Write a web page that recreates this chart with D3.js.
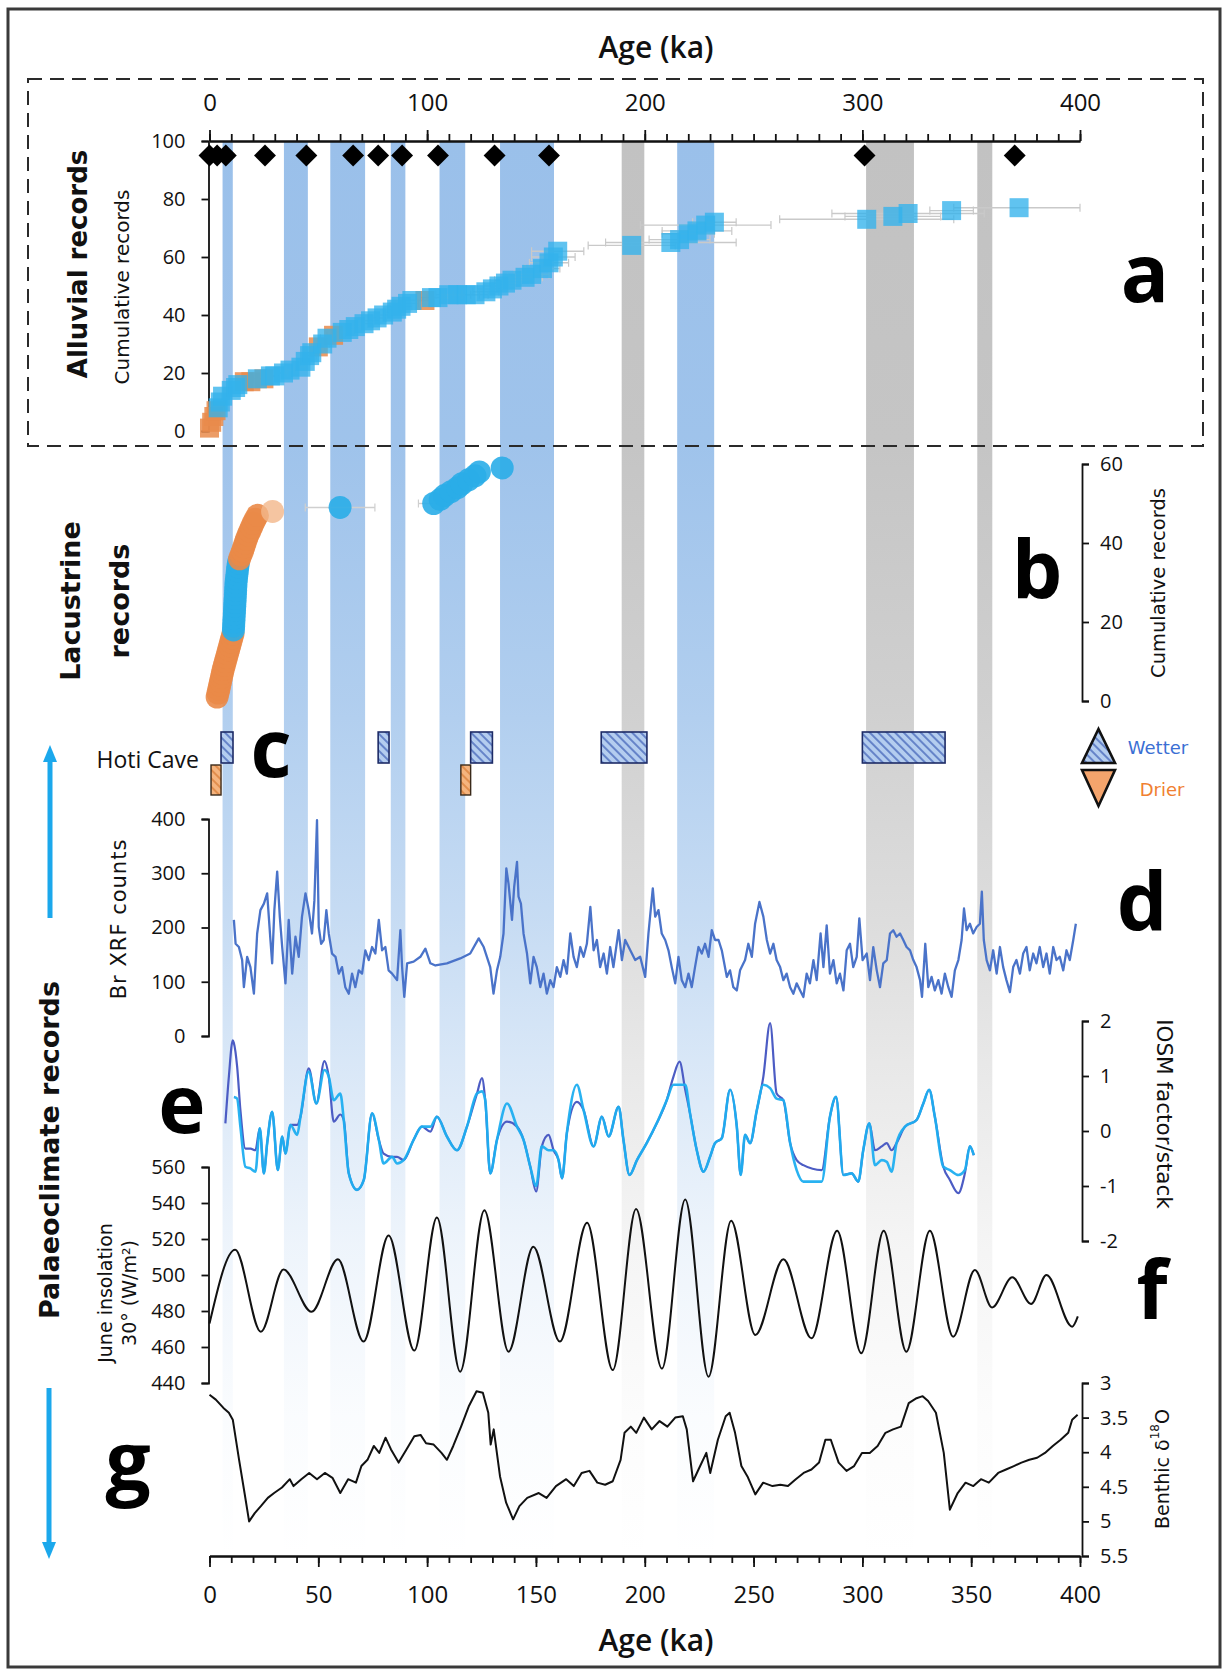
<!DOCTYPE html>
<html><head><meta charset="utf-8">
<script src="https://cdn.jsdelivr.net/npm/d3@7"></script>
<style>body{margin:0;background:#fff} svg{display:block}</style>
</head><body>
<svg id="c" width="1225" height="1673"></svg>
<script>
// ---------------- DATA ----------------
const topTicks = [0,100,200,300,400];
const bottomTicks = [0,50,100,150,200,250,300,350,400];
const yATicks = [0,20,40,60,80,100];
const yBTicks = [0,20,40,60];
const yDTicks = [0,100,200,300,400];
const yETicks = [-2,-1,0,1,2];
const yFTicks = [440,460,480,500,520,540,560];
const yGTicks = [3,3.5,4,4.5,5,5.5];

// highlighted periods (ka)
const bandStart = [6,34.2,55.5,83.3,105.7,133.5,189.4,214.9,301.7,352.8];
const bandEnd   = [10.7,45.2,71.5,90,117.5,158.3,199.8,231.9,323.7,359.7];
const bandType  = ['blue','blue','blue','blue','blue','blue','grey','blue','grey','grey'];

// (a) alluvial records
const diamondAge = [0,3.5,7.5,25.5,44.5,66,77.5,88.5,105,131,156,301,370];
const diamondVal = 95;
const alluvialAge = [0,1,2,3,4,5,6,10,12,13,16,19,22,25,28,30,34,37,42,44,46,47,50,52,54,57,61,64,67,71,74,77,80,84,86,88,91,93,99,102,105,110,114,118,122,127,130,133,136,139,145,148,153,156,158,160,194,212,216,220,224,228,232,302,314,321,341,372];
const alluvialCum = [1,3,5,7,8,10,12,14,15,16,17,17,18,18,19,19,20,21,22,24,26,27,29,30,32,33,34,35,36,37,38,39,40,41,42,43,44,45,45,46,46,47,47,47,47,48,49,50,51,52,53,54,56,58,60,62,64,65,66,68,69,71,72,73,74,75,76,77];
const alluvialErr = [0.5,0.5,0.5,0.5,1,1,1,1,1,1,1,1,2,2,2,2,2,2,2,2,3,3,3,3,3,3,3,3,4,4,4,4,4,4,4,5,5,5,4,5,5,6,6,6,6,6,7,7,7,8,8,8,8,9,10,12,20,30,14,12,16,30,10,40,22,35,10,30];
const alluvialType = ("oooo"+"bbbbbb"+"oo"+"b"+"o"+"bbbbbbbb"+"o"+"bb"+"o"+"bbbbbbbbbbbb"+"o"+"bbbbbbbbbbbbbbbbbbbbbbbbbbbbb").split("");

// (b) lacustrine records
const lacAge = [3.5,3.9,4.3,4.7,5.1,5.5,5.9,6.3,6.8,7.3,7.8,8.3,8.8,9.3,9.8,10.3,10.8,
  11.0,11.1,11.2,11.3,11.4,11.5,11.6,11.7,11.8,11.9,12.0,12.1,12.2,12.4,12.6,12.8,13.0,13.3,
  13.8,14.5,15.2,15.8,16.4,17.0,17.7,18.5,19.3,20.1,21.0,22.0,
  29,60,103,106,108,111,114,116,119,122,124,134.5];
const lacCum = [1,2,3,4,5,6,7,8,9,10,11,12,13,14,15,16,17,18,19,20,21,22,23,24,25,26,27,28,29,30,31,32,33,34,35,36,37,38,39,40,41,42,43,44,45,46,47,48,49,50,51,52,53,54,55,56,57,58,59];
const lacType = ("ooooooooooooooooo"+"bbbbbbbbbbbbbbbbbb"+"oooooooooooo"+"l"+"b"+"bbbbbbbbb"+"b").split("");
const lacErr = [0,0,0,0,0,0,0,0,0,0,0,0,0,0,0,0,0,0,0,0,0,0,0,0,0,0,0,0,0,0,0,0,0,0,0,0,0,0,0,0,0,0,0,0,0,0,0,0,16,7,0,0,0,0,0,0,3,0,0];

// (c) Hoti Cave
const hotiWetStart = [5.3,77.5,120,180,300];
const hotiWetEnd   = [10.8,82.5,130,201,338];
const hotiDryStart = [0.7,115.5];
const hotiDryEnd   = [5.3,120];

// (d) Br XRF counts
const brAge = [11.2,12.0,13.5,15.0,15.8,17.3,18.8,20.4,21.9,23.4,25.0,26.5,28.0,28.8,29.8,31.1,32.3,33.4,34.9,36.4,38.0,39.5,41.0,42.5,44.1,45.6,47.1,48.2,49.4,50.2,51.3,52.5,53.7,54.8,56.3,57.9,59.4,60.9,62.4,64.0,65.5,67.0,68.6,70.1,71.6,73.2,74.7,76.2,77.8,79.3,80.8,82.3,83.9,86.2,87.7,88.5,89.5,90.8,93.8,96.9,99.2,101.5,103.8,109.1,115.2,119.8,123.7,126.0,129.0,130.5,132.1,133.6,135.1,136.4,137.4,139.0,140.0,141.3,142.0,143.1,144.3,145.9,147.4,148.9,150.4,152.0,153.5,155.0,156.6,158.1,159.6,161.2,162.7,164.2,165.8,167.3,168.8,170.4,171.9,173.4,175.0,176.5,178.0,179.5,181.1,182.6,184.1,185.6,188.0,189.5,191.0,
  195.6,197.9,200.2,201.7,203.7,204.8,206.3,207.8,209.4,210.9,212.4,214.0,215.5,217.0,218.6,220.1,221.6,223.1,224.7,226.2,227.7,229.3,230.8,232.3,233.9,235.4,237.7,239.2,240.7,242.3,243.8,246.1,247.6,249.2,250.7,252.7,254.5,256.1,257.6,259.1,260.6,262.2,263.7,265.2,266.8,268.3,269.8,271.4,272.9,274.4,275.9,277.5,279.0,280.8,282.1,283.6,285.1,286.7,288.2,289.7,291.3,292.8,294.3,295.8,297.4,298.6,300.1,302.0,303.5,305.0,306.6,308.1,309.6,311.2,312.7,314.2,315.7,317.3,318.8,320.3,321.9,323.4,324.9,326.5,327.4,328.9,330.3,331.8,333.3,334.9,336.4,337.9,339.5,341.0,342.5,344.1,345.6,346.7,347.9,349.4,350.9,352.5,354.0,354.9,355.8,357.1,358.6,360.1,361.7,363.2,364.7,366.2,367.8,369.3,370.8,372.4,373.9,375.4,376.9,378.5,380.0,381.5,383.1,384.6,386.1,387.7,389.2,390.7,392.3,393.8,395.3,396.9,398.1];
const brVal = [214,170,164,140,90,146,127,78,189,232,244,263,177,134,232,303,220,164,97,214,115,183,146,220,263,232,189,250,398,201,170,177,232,189,152,146,115,127,90,78,115,90,121,115,158,140,164,152,214,158,164,121,115,103,195,127,72,134,137,146,161,134,130,134,143,152,180,164,127,78,121,146,189,309,281,214,275,321,257,244,189,152,97,146,127,90,115,78,103,90,127,109,140,115,189,146,127,164,146,170,238,158,177,127,152,115,164,127,195,140,177,
  140,146,109,189,272,220,232,189,177,158,127,97,146,103,90,115,90,127,164,152,170,146,195,177,177,158,109,121,90,84,121,140,170,146,207,247,220,177,152,170,140,127,103,115,90,78,97,84,72,115,97,140,103,189,127,204,115,140,97,115,84,158,170,127,146,217,140,152,103,164,121,90,134,140,189,195,183,189,177,164,158,140,127,103,72,170,90,109,84,103,78,115,90,72,121,140,177,235,195,207,189,201,207,266,177,140,121,158,115,164,127,103,81,127,140,115,152,164,121,152,134,164,127,152,115,164,140,146,121,158,140,177,207];

// (e) IOSM factor / stack
const eAge = [7.3,8.9,10.7,11.2,12.7,14.2,16.5,18.8,21.1,23.1,25.0,26.5,28.8,31.4,33.4,34.9,37.2,40.3,41.8,45.6,49.1,52.8,54.8,57.1,60.1,61.7,64.0,67.8,70.9,74.7,77.8,80.0,83.9,86.2,89.2,93.8,97.6,101.5,104.5,109.1,113.7,118.3,122.9,125.2,126.7,129.0,132.1,136.7,141.3,144.3,147.4,150.1,152.7,155.8,158.1,160.4,162.0,164.2,168.8,171.9,176.5,180.3,183.4,188.0,190.2,193.0,196.4,200.9,205.5,210.1,213.2,216.0,218.6,220.8,223.9,227.0,230.0,232.3,235.4,239.2,242.3,244.1,246.1,248.4,251.5,254.5,257.6,260.6,263.7,266.8,269.8,272.9,281.3,285.1,287.9,291.3,295.1,298.1,300.4,303.2,305.8,308.9,311.2,313.4,315.7,319.6,324.9,328.0,330.7,333.3,337.2,340.2,344.1,347.1,349.4,351.2];
const eFactor = [0.14,0.99,1.65,1.6,1.17,0.38,-0.32,-0.32,-0.35,0.05,-0.77,-0.22,0.35,-0.71,-0.10,-0.41,0.11,0.11,0.26,1.14,0.50,1.27,0.99,0.17,0.30,0.20,-0.77,-1.07,-0.89,0.32,-0.16,-0.41,-0.47,-0.47,-0.53,-0.16,0.08,-0.01,0.26,-0.10,-0.35,0.08,0.68,0.96,0.56,-0.77,-0.16,0.17,0.08,-0.16,-0.65,-1.10,-0.28,-0.07,-0.35,-0.53,-0.86,-0.04,0.53,0.38,-0.28,0.26,-0.10,0.44,-0.16,-0.80,-0.53,-0.22,0.14,0.56,0.99,1.26,0.75,0.32,-0.35,-0.74,-0.47,-0.22,-0.13,0.75,0.08,-0.80,-0.07,-0.22,0.38,0.99,1.96,0.68,0.56,-0.22,-0.53,-0.62,-0.71,0.26,0.62,-0.80,-0.77,-0.92,-0.35,0.14,-0.35,-0.28,-0.22,-0.35,-0.22,0.08,0.20,0.50,0.75,0.26,-0.65,-0.89,-1.13,-0.77,-0.28,-0.44];
const eStack = [null,null,null,0.62,0.59,0.08,-0.65,-0.68,-0.74,0.05,-0.77,-0.22,0.35,-0.71,-0.10,-0.41,0.11,-0.07,0.26,1.08,0.50,1.11,0.99,0.56,0.68,0.20,-0.77,-1.07,-0.89,0.32,-0.16,-0.59,-0.47,-0.59,-0.53,-0.16,0.08,0.08,0.26,-0.10,-0.35,0.08,0.68,0.72,0.56,-0.77,-0.16,0.50,0.08,-0.16,-0.65,-1.0,-0.28,-0.35,-0.35,-0.53,-0.86,-0.04,0.84,0.38,-0.28,0.26,-0.10,0.44,-0.16,-0.80,-0.53,-0.22,0.14,0.56,0.84,0.84,0.84,0.32,-0.35,-0.74,-0.47,-0.22,-0.13,0.75,0.08,-0.80,-0.07,-0.22,0.38,0.84,0.78,0.59,0.56,-0.22,-0.71,-0.92,-0.92,0.26,0.62,-0.80,-0.77,-0.92,-0.35,0.14,-0.62,-0.53,-0.56,-0.74,-0.22,0.08,0.20,0.50,0.75,0.26,-0.65,-0.71,-0.80,-0.71,-0.28,-0.44];

// (f) June insolation 30N
const insAge = [0,11.8,23.6,34,46.9,59,70.8,82.3,94.1,104.5,115.2,126.3,137.4,148.8,161,173.5,185.3,196,207.9,218.6,229.3,239.7,250.8,263.7,276.6,288.4,299.5,309.8,320.2,331,341.7,351.7,359.6,368.9,377.5,384.6,396.4,399];
const insVal = [473,514,468.5,503,479.6,508.7,463,522,458,532,446.3,536,457.4,515.7,463,529,447.2,536.7,448,542,443.5,530.2,466.7,508.7,464.8,524.6,456.5,524.6,457.4,524.6,465.7,502.8,482,498.7,483.9,500,471.3,477];

// (g) benthic d18O
const gAge = [0.0,2.9,6.4,8.9,10.7,13.6,16.1,18.2,20.8,23.6,26.8,29.7,33.3,36.9,38.6,42.2,45.8,49.4,53.0,56.5,60.1,63.7,67.3,69.8,72.6,75.5,78.0,80.9,83.4,86.9,90.5,94.1,97.0,99.5,103.0,106.6,109.1,112.0,115.6,119.1,122.7,125.6,128.1,129.2,130.6,133.5,136.3,139.5,142.4,146.0,151.3,154.9,159.2,163.9,167.4,171.0,174.6,178.2,181.8,185.3,188.9,190.7,193.6,196.1,199.6,203.2,206.8,210.4,214.0,217.5,219.3,222.2,224.7,228.3,230.1,233.6,237.2,239.0,241.5,244.4,247.2,250.8,254.4,258.7,262.3,265.8,269.4,273.0,276.6,280.1,283.0,285.5,289.1,292.7,296.2,299.8,303.4,307.0,310.6,314.1,317.7,321.3,324.9,327.7,330.2,333.8,337.4,340.2,343.8,347.4,351.0,354.5,358.1,362.4,366.0,369.6,373.1,376.7,380.3,383.9,387.5,391.1,394.6,396.4,398.9];
const gVal = [3.17,3.24,3.36,3.43,3.53,4.11,4.59,5.00,4.88,4.78,4.66,4.59,4.51,4.39,4.49,4.39,4.30,4.39,4.30,4.37,4.59,4.39,4.44,4.20,4.11,3.91,4.01,3.79,3.96,4.15,3.96,3.77,3.75,3.87,3.89,4.01,4.11,3.91,3.63,3.34,3.12,3.14,3.43,3.89,3.67,4.35,4.73,4.97,4.78,4.66,4.59,4.66,4.49,4.39,4.49,4.30,4.27,4.44,4.47,4.42,4.11,3.72,3.63,3.72,3.50,3.67,3.55,3.63,3.50,3.48,3.67,4.42,4.25,4.01,4.30,3.82,3.48,3.43,3.72,4.20,4.35,4.61,4.44,4.49,4.47,4.49,4.39,4.30,4.25,4.15,3.82,3.82,4.15,4.27,4.20,4.01,4.01,3.91,3.72,3.67,3.63,3.29,3.22,3.19,3.26,3.43,4.01,4.83,4.59,4.44,4.49,4.39,4.44,4.30,4.25,4.20,4.15,4.11,4.08,4.01,3.91,3.82,3.72,3.53,3.46];

// ---------------- DRAWING ----------------
const NUM = "'Open Sans', 'Liberation Sans', sans-serif";
const LAB = "'DejaVu Sans', Verdana, sans-serif";
const svg = d3.select("#c");
svg.append("rect").attr("width",1225).attr("height",1673).attr("fill","#fff");
const defs = svg.append("defs");

const x = d3.scaleLinear().domain([0,400]).range([209.5,1080]);
const yA = d3.scaleLinear().domain([0,100]).range([431,141]);
const yB = d3.scaleLinear().domain([0,60]).range([701,464]);
const yD = d3.scaleLinear().domain([0,400]).range([1036,819]);
const yE = d3.scaleLinear().domain([-2,2]).range([1241,1021]);
const yF = d3.scaleLinear().domain([440,560]).range([1383,1167]);
const yG = d3.scaleLinear().domain([3,5.5]).range([1383,1556]);

function grad(id,color){
  const g = defs.append("linearGradient").attr("id",id).attr("gradientUnits","userSpaceOnUse")
    .attr("x1",0).attr("x2",0).attr("y1",yA(100)).attr("y2",yG(5.5));
  [[0,1],[0.216,0.95],[0.395,0.78],[0.55,0.56],[0.65,0.38],[0.78,0.17],[0.9,0.05],[1,0]]
    .forEach(([o,a])=>g.append("stop").attr("offset",o).attr("stop-color",color).attr("stop-opacity",a));
}
grad("gBlue","#9ac0ea");
grad("gGrey","#c2c2c2");

function hatch(id,bg,line){
  const p = defs.append("pattern").attr("id",id).attr("patternUnits","userSpaceOnUse")
    .attr("width",6).attr("height",6).attr("patternTransform","rotate(-45)");
  p.append("rect").attr("width",6).attr("height",6).attr("fill",bg);
  p.append("line").attr("x1",1).attr("y1",0).attr("x2",1).attr("y2",6).attr("stroke",line).attr("stroke-width",1.3);
}
hatch("hB","#b4cdef","#3b5cb4");
hatch("hO","#f5b47e","#d77a32");

// outer frame
svg.append("rect").attr("x",8).attr("y",9).attr("width",1212).attr("height",1658)
  .attr("fill","none").attr("stroke","#3a3a3a").attr("stroke-width",3);

// bands
svg.append("g").selectAll("rect").data(bandStart).join("rect")
  .attr("x",(d)=>x(d)).attr("width",(d,i)=>x(bandEnd[i])-x(d))
  .attr("y",yA(100)).attr("height",yG(5.5)-yA(100))
  .attr("fill",(d,i)=>bandType[i]==='blue'?"url(#gBlue)":"url(#gGrey)");

// dashed box for panel a
svg.append("rect").attr("x",28).attr("y",79).attr("width",1175).attr("height",367)
  .attr("fill","none").attr("stroke","#2a2a2a").attr("stroke-width",2).attr("stroke-dasharray","14,8");

function styleAxis(g,size){
  g.attr("font-family",NUM).attr("font-size",size);
  g.select("path.domain").attr("fill","none");
  g.selectAll("path,line").attr("stroke","#111").attr("stroke-width",1.8);
  g.selectAll("text").attr("fill","#111");
}

// top axis (panel a)
const gTop1 = svg.append("g").attr("transform",`translate(0,${yA(100)})`)
  .call(d3.axisTop(x).tickValues(x.ticks(40)).tickSize(7).tickSizeOuter(0).tickFormat(""));
styleAxis(gTop1,24);
const gTop2 = svg.append("g").attr("transform",`translate(0,${yA(100)})`)
  .call(d3.axisTop(x).tickValues(topTicks).tickSize(11).tickSizeOuter(0).tickPadding(19));
styleAxis(gTop2,24);

// bottom axis
const gBot1 = svg.append("g").attr("transform",`translate(0,${yG(5.5)})`)
  .call(d3.axisBottom(x).tickValues(x.ticks(40)).tickSize(7).tickSizeOuter(0).tickFormat(""));
styleAxis(gBot1,24);
const gBot2 = svg.append("g").attr("transform",`translate(0,${yG(5.5)})`)
  .call(d3.axisBottom(x).tickValues(bottomTicks).tickSize(11).tickSizeOuter(0).tickPadding(19));
styleAxis(gBot2,24);

const leftX = x(0)-1, rightX = x(400)+2;
function leftAxis(scale,ticks){
  const g = svg.append("g").attr("transform",`translate(${leftX},0)`)
    .call(d3.axisLeft(scale).tickValues(ticks).tickSize(7).tickPadding(16).tickFormat(d=>String(d)));
  styleAxis(g,20);
}
function rightAxis(scale,ticks){
  const g = svg.append("g").attr("transform",`translate(${rightX},0)`)
    .call(d3.axisRight(scale).tickValues(ticks).tickSize(7).tickPadding(11).tickFormat(d=>String(d)));
  styleAxis(g,20);
}
leftAxis(yA,yATicks);
rightAxis(yB,yBTicks);
leftAxis(yD,yDTicks);
rightAxis(yE,yETicks);
leftAxis(yF,yFTicks);
rightAxis(yG,yGTicks);

// ---- panel a data ----
const gA = svg.append("g");
alluvialAge.forEach((a,i)=>{
  const e = alluvialErr[i]; if(e<2) return;
  const yy = yA(alluvialCum[i]);
  gA.append("line").attr("x1",x(a-e)).attr("x2",x(Math.min(400,a+e))).attr("y1",yy).attr("y2",yy)
    .attr("stroke","#c9c9c9").attr("stroke-width",1.4);
  [a-e,Math.min(400,a+e)].forEach(v=>gA.append("line").attr("x1",x(v)).attr("x2",x(v))
    .attr("y1",yy-4).attr("y2",yy+4).attr("stroke","#c9c9c9").attr("stroke-width",1.2));
});
const sq = 19;
const idxA = alluvialAge.map((d,i)=>i);
gA.selectAll("rect.o").data(idxA.filter(i=>alluvialType[i]==='o')).join("rect")
  .attr("x",i=>x(alluvialAge[i])-sq/2).attr("y",i=>yA(alluvialCum[i])-sq/2)
  .attr("width",sq).attr("height",sq).attr("fill","#e98b4b").attr("opacity",0.85);
gA.selectAll("rect.b").data(idxA.filter(i=>alluvialType[i]==='b')).join("rect")
  .attr("x",i=>x(alluvialAge[i])-sq/2).attr("y",i=>yA(alluvialCum[i])-sq/2)
  .attr("width",sq).attr("height",sq).attr("fill","#33b2ec").attr("opacity",0.78);
const diamond = d3.symbol().type(d3.symbolSquare).size(240);
gA.selectAll("path.dm").data(diamondAge).join("path")
  .attr("d",diamond).attr("transform",d=>`translate(${x(d)},${yA(diamondVal)}) rotate(45)`)
  .attr("fill","#000");

// ---- panel b data ----
const gB = svg.append("g");
lacAge.forEach((a,i)=>{
  const e = lacErr[i]; if(!e) return;
  const yy = yB(lacCum[i]);
  gB.append("line").attr("x1",x(a-e)).attr("x2",x(a+ (i===48?e:0))).attr("y1",yy).attr("y2",yy)
    .attr("stroke","#cfcfcf").attr("stroke-width",1.4);
  gB.append("line").attr("x1",x(a-e)).attr("x2",x(a-e)).attr("y1",yy-4).attr("y2",yy+4)
    .attr("stroke","#cfcfcf").attr("stroke-width",1.2);
  if(i===48) gB.append("line").attr("x1",x(a+e)).attr("x2",x(a+e)).attr("y1",yy-4).attr("y2",yy+4)
    .attr("stroke","#cfcfcf").attr("stroke-width",1.2);
});
const lacColor = {o:"#ea8a48", b:"#2aade8", l:"#f3b68a"};
gB.selectAll("circle").data(lacAge.map((d,i)=>i)).join("circle")
  .attr("cx",i=>x(lacAge[i])).attr("cy",i=>yB(lacCum[i])).attr("r",11.5)
  .attr("fill",i=>lacColor[lacType[i]]).attr("opacity",i=>lacType[i]==='l'?0.8:0.9);

// ---- panel c ----
const cWetY0 = 732, cWetY1 = 763, cDryY0 = 765, cDryY1 = 795;
svg.append("g").selectAll("rect").data(hotiWetStart).join("rect")
  .attr("x",d=>x(d)).attr("width",(d,i)=>x(hotiWetEnd[i])-x(d))
  .attr("y",cWetY0).attr("height",cWetY1-cWetY0)
  .attr("fill","url(#hB)").attr("stroke","#1d2b66").attr("stroke-width",1.6);
svg.append("g").selectAll("rect").data(hotiDryStart).join("rect")
  .attr("x",d=>x(d)).attr("width",(d,i)=>x(hotiDryEnd[i])-x(d))
  .attr("y",cDryY0).attr("height",cDryY1-cDryY0)
  .attr("fill","url(#hO)").attr("stroke","#3a2a1a").attr("stroke-width",1.4);
svg.append("text").attr("x",199).attr("y",768).attr("text-anchor","end")
  .attr("font-family",NUM).attr("font-size",23).attr("fill","#111").text("Hoti Cave");
// legend
svg.append("path").attr("d","M1098.5,729 L1115,763 L1082,763 Z").attr("fill","url(#hB)")
  .attr("stroke","#111").attr("stroke-width",2.6).attr("stroke-linejoin","miter");
svg.append("path").attr("d","M1082,770 L1115,770 L1098.5,806 Z").attr("fill","#f4a46c")
  .attr("stroke","#111").attr("stroke-width",2.6);
svg.append("text").attr("x",1158).attr("y",754).attr("text-anchor","middle")
  .attr("font-family",LAB).attr("font-size",18).attr("fill","#3b6fd4").text("Wetter");
svg.append("text").attr("x",1162).attr("y",796).attr("text-anchor","middle")
  .attr("font-family",LAB).attr("font-size",18).attr("fill","#f08032").text("Drier");

// ---- panel d ----
svg.append("path").datum(brAge.map((a,i)=>[a,brVal[i]]))
  .attr("d",d3.line().x(d=>x(d[0])).y(d=>yD(d[1])))
  .attr("fill","none").attr("stroke","#4a73c9").attr("stroke-width",2.3).attr("stroke-linejoin","round");

// ---- panel e ----
const eLine = d3.line().defined(d=>d[1]!==null).x(d=>x(d[0])).y(d=>yE(d[1])).curve(d3.curveMonotoneX);
svg.append("path").datum(eAge.map((a,i)=>[a,eFactor[i]])).attr("d",eLine)
  .attr("fill","none").attr("stroke","#4c5cc4").attr("stroke-width",2.2);
svg.append("path").datum(eAge.map((a,i)=>[a,eStack[i]])).attr("d",eLine)
  .attr("fill","none").attr("stroke","#1eaef0").attr("stroke-width",2.6).attr("opacity",0.95);

// ---- panel f ----
svg.append("path").datum(insAge.map((a,i)=>[a,insVal[i]]))
  .attr("d",d3.line().x(d=>x(d[0])).y(d=>yF(d[1])).curve(d3.curveMonotoneX))
  .attr("fill","none").attr("stroke","#111").attr("stroke-width",2);

// ---- panel g ----
svg.append("path").datum(gAge.map((a,i)=>[a,gVal[i]]))
  .attr("d",d3.line().x(d=>x(d[0])).y(d=>yG(d[1])))
  .attr("fill","none").attr("stroke","#111").attr("stroke-width",2).attr("stroke-linejoin","round");

// ---- arrows ----
const arrowC = "#1ba8ec";
svg.append("line").attr("x1",50).attr("x2",50).attr("y1",918).attr("y2",758).attr("stroke",arrowC).attr("stroke-width",5);
svg.append("path").attr("d","M50,745 L43,762 L57,762 Z").attr("fill",arrowC);
svg.append("line").attr("x1",49).attr("x2",49).attr("y1",1388).attr("y2",1546).attr("stroke",arrowC).attr("stroke-width",5);
svg.append("path").attr("d","M49,1559 L42,1542 L56,1542 Z").attr("fill",arrowC);

// ---- labels ----
function vtext(xp,yp,rot,str,size,weight,family,extra){
  const t = svg.append("text").attr("transform",`translate(${xp},${yp}) rotate(${rot})`)
    .attr("text-anchor","middle").attr("dominant-baseline","central")
    .attr("font-family",family).attr("font-size",size).attr("font-weight",weight).attr("fill","#111");
  if(extra) extra(t); else t.text(str);
  return t;
}
vtext(78,264,-90,"Alluvial records",26,"bold",LAB);
vtext(122,287,-90,"Cumulative records",20,"normal",LAB);
vtext(70,601,-90,"Lacustrine",27,"bold",LAB);
vtext(119,601,-90,"records",27,"bold",LAB);
vtext(1158,583,-90,"Cumulative records",19.5,"normal",LAB);
vtext(49,1150,-90,"Palaeoclimate records",27,"bold",LAB);
vtext(119,919,-90,"Br XRF counts",21,"normal",LAB).attr("letter-spacing",1);
vtext(1164,1114,90,"IOSM factor/stack",21.5,"normal",LAB);
vtext(105,1293,-90,"June insolation",19,"normal",LAB);
vtext(129,1293,-90,"30° (W/m²)",19,"normal",LAB);
vtext(1162,1469,-90,null,19,"normal",LAB,t=>{
  t.append("tspan").text("Benthic δ");
  t.append("tspan").attr("font-size",12).attr("dy",-7).text("18");
  t.append("tspan").attr("dy",7).text("O");
});

function big(xp,yp,s){
  svg.append("text").attr("x",xp).attr("y",yp).attr("text-anchor","middle")
    .attr("font-family",NUM).attr("font-weight",700).attr("font-size",80).attr("fill","#000").text(s);
}
big(1145,302,"a"); big(1037,598,"b"); big(271,777,"c"); big(1142,930,"d");
big(182,1133,"e"); big(1152,1318,"f"); big(128,1490,"g");

svg.append("text").attr("x",656).attr("y",58).attr("text-anchor","middle")
  .attr("font-family",NUM).attr("font-weight",600).attr("font-size",30).attr("fill","#111").text("Age (ka)");
svg.append("text").attr("x",656).attr("y",1651).attr("text-anchor","middle")
  .attr("font-family",NUM).attr("font-weight",600).attr("font-size",30).attr("fill","#111").text("Age (ka)");
</script>
</body></html>
